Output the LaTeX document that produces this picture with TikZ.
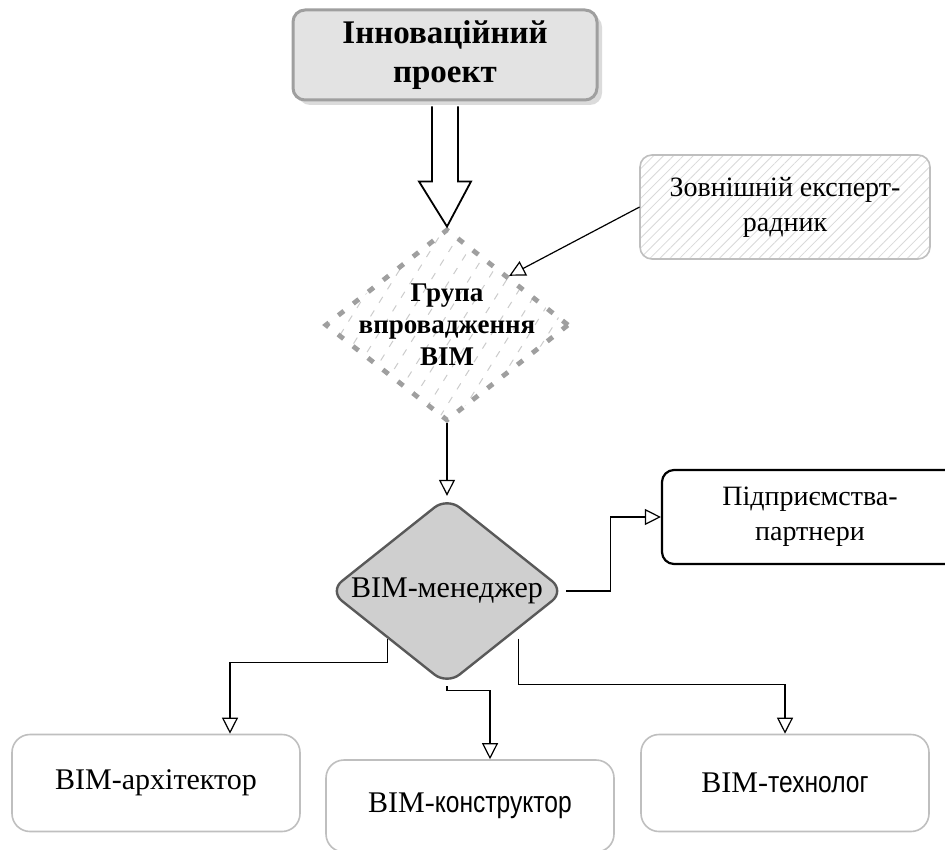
\documentclass[tikz,border=0pt]{standalone}
\usepackage{fontspec}
\setmainfont{Liberation Serif}
\newfontfamily\narrowsans[FakeStretch=0.82]{Liberation Sans}
\usetikzlibrary{shapes.geometric,patterns.meta,shadows,arrows.meta,calc}

\tikzset{
  openhead/.style={-{Triangle[open,length=8pt,width=8pt]}},
  link/.style={draw, line width=0.6pt, openhead},
  roundbox/.style={rectangle, rounded corners=6pt, draw=gray!60, line width=0.8pt,
    align=center, inner sep=0},
  rolebox/.style={roundbox, draw=gray!50, rounded corners=9pt,
    minimum width=144pt, minimum height=48.5pt, font=\fontsize{15}{18}\selectfont},
  hatch/.style={pattern={Lines[angle=#1,distance=3.5pt,line width=0.4pt]}, pattern color=gray!30},
}

\begin{document}
\begin{tikzpicture}[x=0.5pt, y=-0.5pt]
  \fill[white] (0,0) rectangle (945,849);
  \useasboundingbox (0,0) rectangle (945,849);

  % Project at the top
  \node[roundbox, minimum width=152pt, minimum height=45pt, fill=gray!22, draw=gray!75,
    line width=1.5pt, drop shadow={shadow xshift=2.5pt, shadow yshift=-2.5pt, fill=gray!55},
    font=\bfseries\fontsize{16.5}{19.5}\selectfont] (proj) at (445,55) {Інноваційний\\проект};

  % Implementation group
  \node[diamond, minimum width=122pt, minimum height=96pt, inner sep=0,
    pattern={Lines[angle=58,distance=8pt,line width=0.5pt]}, pattern color=gray!40,
    draw=gray!75, line width=2.4pt, dash pattern=on 3.5pt off 6pt] (grp) at (447,325) {};
  \node[align=center, font=\bfseries\fontsize{13.5}{16}\selectfont] (grptext) at (grp)
    {Група\\впровадження\\BIM};

  % Block arrow
  \draw[line width=0.9pt, fill=white] ($(proj.south)+(-13,5)$) -- ($(proj.south)+(-13,80)$)
    -- ($(proj.south)+(-26,80)$) -- (grp.north) -- ($(proj.south)+(26,80)$)
    -- ($(proj.south)+(13,80)$) -- ($(proj.south)+(13,5)$);

  % External adviser
  \node[roundbox, draw=gray!50, minimum width=145pt, minimum height=52pt, hatch=45,
    font=\fontsize{14}{17.5}\selectfont] (ext) at (785,207) {Зовнішній експерт-\\радник};

  % Manager
  \node[diamond, minimum width=118pt, minimum height=94pt, inner sep=0, fill=gray!38,
    draw=gray!70!black, line width=1.2pt, rounded corners=8pt] (mgr) at (447,591) {};
  \node[font=\fontsize{15}{18}\selectfont] (mgrtext) at (mgr) {BIM-менеджер};

  % Partners
  \node[roundbox, draw=black, line width=1.1pt, minimum width=148pt, minimum height=47pt,
    font=\fontsize{14}{17.5}\selectfont] (partner) at (810,517) {Підприємства-\\партнери};

  % Roles
  \node[rolebox] (arch) at (156,783) {BIM-архітектор};
  \node[rolebox, minimum height=46pt] (constr) at (470,806) {BIM-{\narrowsans конструктор}};
  \node[rolebox] (tech) at (785,783) {BIM-{\narrowsans технолог}};

  % Connectors
  \draw[link] (ext.west) -- (grp.north east);
  \draw[link] (grp.south) -- (mgr.north);
  \draw[link] (mgr.east) -- ++(44,0) |- (partner.west);
  \draw[link] (mgr.south west) -- ++(0,24) -| ([xshift=37pt]arch.north);
  \draw[link] (mgr.south) -- ++(0,4) -| ([xshift=10pt]constr.north);
  \draw[link] ([xshift=6pt]mgr.south east) -- ++(0,46) -| (tech.north);
\end{tikzpicture}
\end{document}
